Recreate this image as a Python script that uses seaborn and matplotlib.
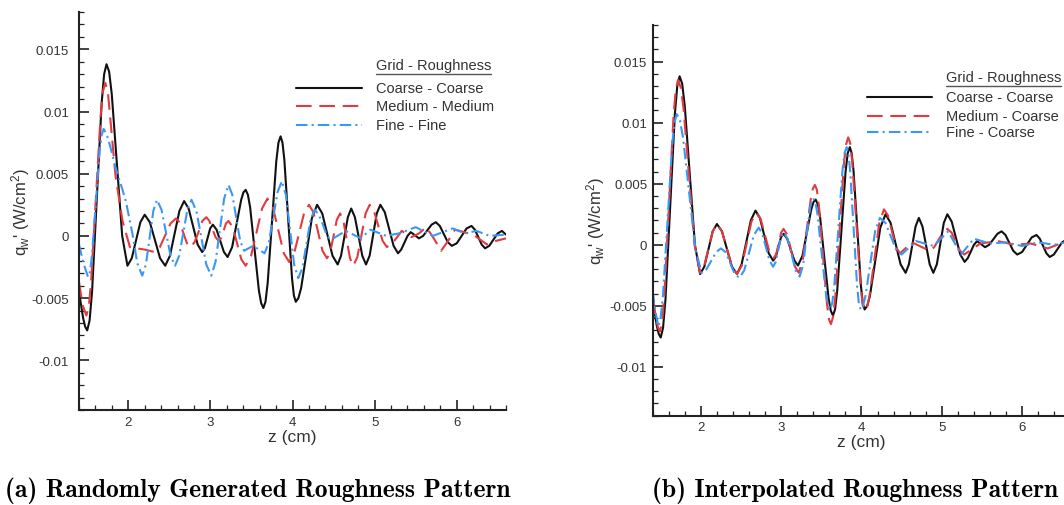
import matplotlib
matplotlib.use("Agg")
import matplotlib.pyplot as plt
from matplotlib.ticker import MultipleLocator, FuncFormatter
from matplotlib.lines import Line2D
import pandas as pd
import seaborn as sns

# ---- wall heat-flux fluctuation q_w' (W/cm^2) along z (cm) ----
# Coarse grid with coarse roughness (shared by both panels)
coarse_z = [1.40, 1.45, 1.475, 1.50, 1.529, 1.559, 1.6175, 1.676, 1.706, 1.735, 1.767, 1.799, 1.8625, 1.926, 1.99,
            2.0425, 2.095, 2.1475, 2.20, 2.2625, 2.325, 2.3875, 2.45, 2.5075, 2.565, 2.6225,
            2.68, 2.735, 2.79, 2.845, 2.90, 2.9325, 2.965, 2.9975, 3.03, 3.075, 3.12, 3.165,
            3.21, 3.265, 3.32, 3.375, 3.4025, 3.43, 3.457, 3.484, 3.5375, 3.591, 3.618, 3.645, 3.671, 3.6975, 3.75, 3.8025,
            3.829, 3.855, 3.878, 3.901, 3.9475, 3.994, 4.017, 4.04, 4.072, 4.105, 4.17, 4.235, 4.30, 4.3625, 4.425, 4.4875,
            4.55, 4.591, 4.6325, 4.674, 4.715, 4.76, 4.805, 4.85, 4.895, 4.939, 4.9825, 5.026,
            5.07, 5.124, 5.1775, 5.231, 5.285, 5.324, 5.3625, 5.401, 5.44, 5.49, 5.54, 5.591,
            5.6425, 5.694, 5.745, 5.794, 5.8425, 5.891, 5.94, 6.00, 6.06, 6.12, 6.18, 6.221,
            6.2625, 6.304, 6.345, 6.396, 6.4475, 6.499, 6.55, 6.60]
coarse_q = [-0.0045, -0.0066, -0.0073, -0.0076, -0.0068, -0.0045, 0.0031, 0.0107, 0.0130, 0.0138, 0.0132, 0.0114, 0.0057, 0.0000, -0.0024,
            -0.0018, -0.00035, 0.0011, 0.0017, 0.0011, -0.00035, -0.0018, -0.0024, -0.0016, 0.0002, 0.0020,
            0.0028, 0.0022, 0.00075, -0.0007, -0.0013, -0.0010, -0.0002, 0.0006, 0.0009, 0.0005, -0.0004, -0.0013,
            -0.0017, -0.0009, 0.0010, 0.0029, 0.0035, 0.0037, 0.0033, 0.0023, -0.00105, -0.0044, -0.0054, -0.0058, -0.0053, -0.0038, 0.0011, 0.0060,
            0.0075, 0.0080, 0.0075, 0.0061, 0.00135, -0.0034, -0.0048, -0.0053, -0.0050, -0.0042, -0.0014, 0.0014, 0.0025, 0.0018, 0.0001, -0.0016,
            -0.0023, -0.0016, -0.00005, 0.0015, 0.0022, 0.0015, -0.00005, -0.0016, -0.0023, -0.0016, 0.0001, 0.0018,
            0.0025, 0.0019, 0.00055, -0.0008, -0.0014, -0.0011, -0.00055, 0.0000, 0.0003, 0.00005, -0.0002, 0.0000,
            0.00045, 0.0009, 0.0011, 0.0008, 0.00015, -0.0005, -0.0008, -0.0006, 0.0000, 0.0006, 0.0008, 0.0005,
            -0.0001, -0.0007, -0.0010, -0.0008, -0.0003, 0.0002, 0.0004, 0.0001]

# Medium grid, medium roughness (randomly generated pattern)
medium_rand_z = [1.40, 1.445, 1.49, 1.519, 1.5475, 1.605, 1.6625, 1.691, 1.72, 1.75, 1.78, 1.845, 1.93, 2.02, 2.10, 2.20,
                 2.32, 2.385, 2.45, 2.515, 2.58, 2.625, 2.67, 2.715, 2.76, 2.8075, 2.855, 2.9025, 2.95,
                 2.9875, 3.025, 3.0625, 3.10, 3.13, 3.16, 3.19, 3.22, 3.2725, 3.325, 3.3775, 3.43, 3.496,
                 3.5625, 3.629, 3.695, 3.761, 3.8275, 3.894, 3.96, 4.02, 4.08, 4.14, 4.20, 4.255, 4.31,
                 4.365, 4.42, 4.46, 4.50, 4.54, 4.58, 4.62, 4.66, 4.70, 4.74, 4.79, 4.84, 4.89, 4.94,
                 4.9925, 5.045, 5.0975, 5.15,
                 5.24, 5.33, 5.45, 5.54, 5.63, 5.72, 5.81, 5.895, 5.98, 6.09, 6.20, 6.285, 6.37, 6.48, 6.60]
medium_rand_q = [-0.0037, -0.0056, -0.0064, -0.0057, -0.0037, 0.00295, 0.0096, 0.0116, 0.0123, 0.0117, 0.0095, 0.0048, 0.0012, -0.0009, -0.0010, -0.0011,
                 -0.0013, -0.0009, 0.00005, 0.0010, 0.0014, 0.0011, 0.00025, -0.0006, -0.0009, -0.0005, 0.0003, 0.0012, 0.0015,
                 0.0012, 0.00055, -0.0001, -0.0004, -0.0002, 0.0004, 0.0010, 0.0012, 0.0007, -0.0006, -0.0019, -0.0024, -0.0016,
                 0.0003, 0.0022, 0.0030, 0.0023, 0.00045, -0.0014, -0.0021, -0.0014, 0.0002, 0.0018, 0.0025, 0.0019, 0.00035,
                 -0.0012, -0.0018, -0.0013, 0.0000, 0.0013, 0.0018, 0.0012, -0.0003, -0.0018, -0.0024, -0.0017, 0.00005, 0.0018, 0.0025,
                 0.0020, 0.0008, -0.0004, -0.0009,
                 -0.0004, 0.0004, -0.0001, 0.0002, 0.0007, -0.0002, -0.0012, -0.0004, 0.0005, 0.0003, 0.0001, -0.0003, -0.0007, -0.0004, -0.0002]

# Fine grid, fine roughness (randomly generated pattern)
fine_rand_z = [1.40, 1.455, 1.51, 1.534, 1.5575, 1.605, 1.6525, 1.676, 1.70, 1.74, 1.78, 1.845, 1.93, 1.97, 2.05, 2.11, 2.17,
               2.215, 2.26, 2.305, 2.35, 2.405, 2.46, 2.515, 2.57, 2.62, 2.67, 2.72, 2.77, 2.83, 2.89,
               2.95, 3.01, 3.0625, 3.115, 3.1675, 3.22, 3.2675, 3.315, 3.3625, 3.41, 3.52, 3.66, 3.7125,
               3.765, 3.8175, 3.87, 3.92, 3.97, 4.02, 4.07, 4.12, 4.17, 4.22, 4.27, 4.32, 4.37, 4.42,
               4.47, 4.65, 4.83, 4.95, 5.14, 5.30, 5.50, 5.71, 5.95, 6.10, 6.24, 6.40, 6.60]
fine_rand_q = [-0.0007, -0.0022, -0.0033, -0.0029, -0.0016, 0.00265, 0.0069, 0.0081, 0.0086, 0.0081, 0.0072, 0.0055, 0.0037, 0.0028, 0.0002, -0.0022, -0.0032,
               -0.0023, -0.00015, 0.0020, 0.0029, 0.0021, 0.00025, -0.0016, -0.0024, -0.0016, 0.00025, 0.0021, 0.0029, 0.0020, -0.00015,
               -0.0023, -0.0032, -0.0021, 0.00045, 0.0030, 0.0041, 0.0033, 0.00145, -0.0004, -0.0012, -0.0008, -0.0014, -0.0005,
               0.0015, 0.0035, 0.0044, 0.0033, 0.0005, -0.0023, -0.0034, -0.0026, -0.00065, 0.0013, 0.0021, 0.0017, 0.0009, 0.0000,
               -0.0003, 0.0004, -0.0002, 0.0005, 0.0000, 0.0002, 0.0007, 0.0000, 0.0006, 0.0002, 0.0004, 0.0000, 0.0001]

# Medium grid, coarse roughness (interpolated pattern)
medium_interp_z = [1.40, 1.445, 1.4675, 1.49, 1.518, 1.546, 1.6025, 1.659, 1.687, 1.715, 1.749, 1.784, 1.8525, 1.921, 1.99, 2.0425, 2.095,
                   2.1475, 2.20, 2.2625, 2.325, 2.3875, 2.45, 2.51, 2.57, 2.63, 2.69, 2.745, 2.80, 2.855, 2.91,
                   2.94, 2.97, 3.00, 3.03, 3.0775, 3.125, 3.1725, 3.22, 3.27, 3.32, 3.37, 3.395, 3.42, 3.445, 3.47, 3.52,
                   3.57, 3.595, 3.62, 3.647, 3.674, 3.7275, 3.781, 3.808, 3.835, 3.861, 3.886, 3.9375, 3.989, 4.014, 4.04, 4.07, 4.10, 4.16, 4.22,
                   4.28, 4.33, 4.38, 4.43, 4.48, 4.555, 4.63, 4.74, 4.85, 4.905, 4.96, 5.015, 5.07, 5.1225,
                   5.175, 5.2275, 5.28, 5.38, 5.48, 5.70, 5.90, 6.11, 6.32, 6.52, 6.60]
medium_interp_q = [-0.0044, -0.0062, -0.0068, -0.0071, -0.0063, -0.0041, 0.0032, 0.0105, 0.0127, 0.0135, 0.0129, 0.0112, 0.0056, 0.0000, -0.0023, -0.0017, -0.0003,
                   0.0011, 0.0017, 0.0011, -0.00035, -0.0018, -0.0024, -0.0017, 0.0001, 0.0019, 0.0026, 0.0021, 0.00075, -0.0006, -0.0011,
                   -0.0007, 0.0001, 0.0010, 0.0013, 0.0008, -0.0005, -0.0018, -0.0023, -0.0012, 0.0013, 0.0038, 0.0046, 0.0049, 0.0045, 0.0032, -0.0008,
                   -0.0048, -0.0061, -0.0065, -0.0059, -0.0043, 0.00115, 0.0066, 0.0082, 0.0088, 0.0083, 0.0067, 0.0017, -0.0033, -0.0049, -0.0054, -0.0051, -0.0042, -0.00125, 0.0017,
                   0.0029, 0.0024, 0.0011, -0.0002, -0.0007, -0.00025, 0.0002, -0.00015, -0.0005, -0.0002, 0.0004, 0.0010, 0.0013, 0.0010,
                   0.00025, -0.0005, -0.0008, -0.00035, 0.0001, 0.0003, 0.0000, 0.0001, -0.0003, 0.0002, 0.0001]

# Fine grid, coarse roughness (interpolated pattern)
fine_interp_z = [1.40, 1.435, 1.47, 1.4985, 1.5275, 1.585, 1.6425, 1.671, 1.70, 1.739, 1.7775, 1.855, 1.9325, 2.01, 2.07, 2.13,
                 2.19, 2.25, 2.3075, 2.365, 2.4225, 2.48, 2.54, 2.60, 2.66, 2.72, 2.765, 2.81, 2.855, 2.90,
                 2.9325, 2.965, 2.9975, 3.03, 3.08, 3.13, 3.18, 3.23, 3.2725, 3.315, 3.3575, 3.379, 3.40, 3.426, 3.4525,
                 3.505, 3.5575, 3.584, 3.61, 3.6355, 3.661, 3.7125, 3.764, 3.79, 3.815, 3.837, 3.859, 3.9025, 3.946, 3.968, 3.99, 4.02, 4.05, 4.11,
                 4.17, 4.23, 4.2975, 4.365, 4.4325, 4.50, 4.68, 4.90, 5.08, 5.24, 5.40, 5.60, 5.80, 6.00,
                 6.20, 6.40, 6.55, 6.60]
fine_interp_q = [-0.0038, -0.0055, -0.0067, -0.0060, -0.0042, 0.0020, 0.0082, 0.0100, 0.0107, 0.0102, 0.0088, 0.0042, -0.0004, -0.0023, -0.0020, -0.0013,
                 -0.0006, -0.0003, -0.0006, -0.0015, -0.0024, -0.0027, -0.0021, -0.00065, 0.0008, 0.0014, 0.0009, -0.0002, -0.0013, -0.0018,
                 -0.0014, -0.0004, 0.0006, 0.0010, 0.0005, -0.0008, -0.0021, -0.0026, -0.0017, 0.0006, 0.0029, 0.0036, 0.0038, 0.0035, 0.0025,
                 -0.00075, -0.0040, -0.0050, -0.0053, -0.0048, -0.0034, 0.00135, 0.0061, 0.0075, 0.0080, 0.0075, 0.0061, 0.00135, -0.0034, -0.0048, -0.0053, -0.0050, -0.0042, -0.00155,
                 0.0011, 0.0022, 0.0018, 0.0007, -0.0004, -0.0008, 0.0003, -0.0001, 0.0011, -0.0008, 0.0005, 0.0001, 0.0002, -0.0001,
                 0.0002, 0.0000, 0.0002, 0.0001]

legend_title = "Grid - Roughness"
labels_a = ["Coarse - Coarse", "Medium - Medium", "Fine - Fine"]
labels_b = ["Coarse - Coarse", "Medium - Coarse", "Fine - Coarse"]
captions = ["(a) Randomly Generated Roughness Pattern", "(b) Interpolated Roughness Pattern"]
x_ticks = [2, 3, 4, 5, 6]
y_ticks = [-0.01, -0.005, 0, 0.005, 0.01, 0.015]

# ---- styling ----
sns.set_style("white")
plt.rcParams["font.family"] = ["Liberation Sans", "DejaVu Sans"]
plt.rcParams["mathtext.default"] = "regular"
plt.rcParams["axes.unicode_minus"] = False

W, H = 1064, 506
fig = plt.figure(figsize=(W / 100, H / 100), dpi=100)

colors = ["#111111", "#e23a3f", "#3a97f5"]
styles = ["-", (0, (7.5, 3.7)), (0, (5.5, 2.0, 1.0, 2.0))]
lw = 1.5


def fx(px):
    return px / W


def fy(py):
    return 1 - py / H


def make_axes(rect, series, ylabel_x, xlabel_y, ypad):
    ax = fig.add_axes(rect)
    for (z, q), c, ls in zip(series, colors, styles):
        df = pd.DataFrame({"z": z, "q": q})
        sns.lineplot(data=df, x="z", y="q", ax=ax, color=c, linestyle=ls,
                     linewidth=lw, estimator=None, sort=False, legend=False)
    ax.set_xlim(1.4, 6.6)
    ax.set_ylim(-0.014, 0.018)
    ax.set_xticks(x_ticks)
    ax.xaxis.set_minor_locator(MultipleLocator(0.2))
    ax.set_yticks(y_ticks)
    ax.yaxis.set_minor_locator(MultipleLocator(0.001))
    ax.yaxis.set_major_formatter(FuncFormatter(lambda v, p: f"{v:g}" if abs(v) > 1e-12 else "0"))
    ax.xaxis.set_major_formatter(FuncFormatter(lambda v, p: f"{v:g}"))
    for s in ["top", "right"]:
        ax.spines[s].set_visible(False)
    for s in ["left", "bottom"]:
        ax.spines[s].set_linewidth(1.5)
        ax.spines[s].set_color("#222222")
    ax.tick_params(which="both", direction="in", color="#222222", labelcolor="#333333",
                   labelsize=9.5, top=False, right=False, left=True, bottom=True)
    ax.tick_params(which="major", length=7, width=1.2, pad=4)
    ax.tick_params(which="minor", length=3.5, width=0.9)
    ax.tick_params(axis="y", which="major", pad=ypad)
    ax.set_xlabel("z (cm)", fontsize=12.5, color="#333333")
    ax.set_ylabel("q$_w$' (W/cm$^2$)", fontsize=12, color="#333333")
    ax.xaxis.set_label_coords(0.5, xlabel_y)
    ax.yaxis.set_label_coords(ylabel_x, 0.5)
    ax.set_facecolor("white")
    return ax


ax_a = make_axes([fx(79), fy(411), fx(506 - 79), (411 - 13) / H],
                 [(coarse_z, coarse_q), (medium_rand_z, medium_rand_q), (fine_rand_z, fine_rand_q)],
                 -0.110, -0.048, 7.2)
ax_b = make_axes([fx(652.7), fy(416.7), fx(1070.2 - 652.7), (416.7 - 26) / H],
                 [(coarse_z, coarse_q), (medium_interp_z, medium_interp_q), (fine_interp_z, fine_interp_q)],
                 -0.109, -0.047, 4)


def draw_key(title_xy, line_x, text_x, rows_y, labels):
    t = fig.text(fx(title_xy[0]), fy(title_xy[1]), legend_title, fontsize=10.5,
                 color="#333333", ha="left", va="center")
    for yy, lab, c, ls in zip(rows_y, labels, colors, styles):
        fig.add_artist(Line2D([fx(line_x[0]), fx(line_x[1])], [fy(yy), fy(yy)],
                              transform=fig.transFigure, color=c, linestyle=ls, linewidth=lw))
        fig.text(fx(text_x), fy(yy), lab, fontsize=10.5, color="#333333", ha="left", va="center")
    return t


t_a = draw_key((376, 66), (296, 362), 376, [88.7, 107.3, 125.7], labels_a)
t_b = draw_key((946, 78.3), (866.7, 931.7), 946, [98.3, 116.7, 133.3], labels_b)

fig.canvas.draw()
inv = fig.transFigure.inverted()
for t in (t_a, t_b):
    bb = t.get_window_extent()
    (x0, y0), (x1, _) = inv.transform([(bb.x0, bb.y0), (bb.x1, bb.y1)])
    fig.add_artist(Line2D([x0, x1], [y0 - 1.5 / H, y0 - 1.5 / H], transform=fig.transFigure,
                          color="#555555", linewidth=1.0))

fig.text(fx(258), fy(491), captions[0], family="cmb10", fontsize=18.4, ha="center", va="center", color="black")
fig.text(fx(855), fy(491), captions[1], family="cmb10", fontsize=18.4, ha="center", va="center", color="black")

fig.savefig("out.png", dpi=100, facecolor="white")
